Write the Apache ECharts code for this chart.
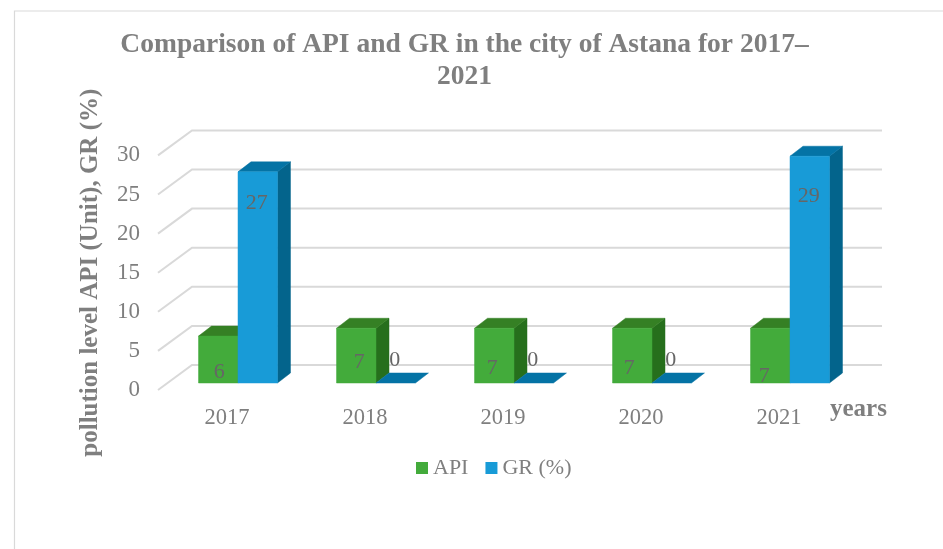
<!DOCTYPE html>
<html>
<head>
<meta charset="utf-8">
<style>html,body{margin:0;padding:0;background:#fff}#c{width:943px;height:549px}</style>
<script src="https://cdn.jsdelivr.net/npm/echarts@6/dist/echarts.min.js"></script>
</head>
<body>
<div id="c"></div>
<script>
const categories = ['2017', '2018', '2019', '2020', '2021'];
const apiValues = [6, 7, 7, 7, 7];
const grValues = [27, 0, 0, 0, 29];
const yTicks = [0, 5, 10, 15, 20, 25, 30];

// Layout of the pseudo-3D drawing (pixels)
const FONT = '"Liberation Serif"';
const wall = { dx: 34, dy: -25 };
const plane = { dx: 11, dy: -7 };
const depth = { dx: 13, dy: -10 };
const barRatio = 0.286;
const labelNudgeApi = [[1, 36], [3, 34], [-2, 40], [-3, 40], [-6, 48]];
const labelNudgeGr = [[-1, 31], [-1, -23], [-1, -23], [-1, -23], [-1, 40]];

function poly(points, fill) {
  return { type: 'polygon', shape: { points }, style: { fill, stroke: fill, lineWidth: 0.5 } };
}
function boxSeries(name, values, slot, colors) {
  return {
    name, type: 'custom', coordinateSystem: 'cartesian2d', clip: false, z: 3 + slot,
    itemStyle: { color: colors.front },
    data: values.map((v, i) => [i, v]),
    encode: { x: 0, y: 1 },
    renderItem(params, api) {
      const w = api.size([1, 0])[0] * barRatio;
      const top = api.coord([api.value(0), api.value(1)]);
      const base = api.coord([api.value(0), 0]);
      const xl = base[0] + plane.dx + (slot - 1) * w, xr = xl + w;
      const yb = base[1] + plane.dy, yt = top[1] + plane.dy;
      const { dx, dy } = depth;
      const children = [];
      if (yb - yt > 0.5) {
        children.push(poly([[xr, yt], [xr + dx, yt + dy], [xr + dx, yb + dy], [xr, yb]], colors.side));
      }
      children.push(poly([[xl, yt], [xl + dx, yt + dy], [xr + dx, yt + dy], [xr, yt]], colors.top));
      if (yb - yt > 0.5) {
        children.push(poly([[xl, yt], [xr, yt], [xr, yb], [xl, yb]], colors.front));
      }
      return { type: 'group', children };
    }
  };
}
function labelSeries(values, slot, nudges) {
  return {
    type: 'custom', coordinateSystem: 'cartesian2d', clip: false, z: 10, silent: true,
    data: values.map((v, i) => [i, v]),
    encode: { x: 0, y: 1 },
    renderItem(params, api) {
      const w = api.size([1, 0])[0] * barRatio;
      const i = api.value(0);
      const top = api.coord([i, api.value(1)]);
      const n = nudges[i];
      return {
        type: 'text',
        style: {
          text: String(api.value(1)),
          x: top[0] + plane.dx + (slot - 0.5) * w + n[0],
          y: top[1] + plane.dy + n[1],
          align: 'center', verticalAlign: 'middle',
          fill: '#666666', font: '22px ' + FONT
        }
      };
    }
  };
}

const chart = echarts.init(document.getElementById('c'), null, { renderer: 'canvas' });
chart.setOption({
  animation: false,
  backgroundColor: '#ffffff',
  title: {
    text: 'Comparison of API and GR in the city of Astana for 2017–\n2021',
    left: 459.5, top: 24, textAlign: 'center',
    textStyle: { fontFamily: FONT, fontSize: 27.5, fontWeight: 'bold', color: '#7f7f7f', lineHeight: 32 }
  },
  legend: {
    data: ['API', 'GR (%)'], left: 411, top: 452, icon: 'rect',
    itemWidth: 12, itemHeight: 12, itemGap: 17,
    textStyle: { fontFamily: FONT, fontSize: 22, color: '#7f7f7f' }
  },
  grid: { left: 158, top: 155.4, width: 690, height: 234.6 },
  xAxis: {
    type: 'category', data: categories,
    axisLine: { show: false }, axisTick: { show: false },
    axisLabel: { margin: 17, color: '#7f7f7f', fontFamily: FONT, fontSize: 22.5 },
    name: 'years', nameLocation: 'end', nameGap: -18,
    nameTextStyle: { fontFamily: FONT, fontSize: 25, fontWeight: 'bold', color: '#7f7f7f',
      align: 'left', verticalAlign: 'top', padding: [7, 0, 0, 0] }
  },
  yAxis: {
    type: 'value', min: 0, max: 30, interval: 5,
    axisLine: { show: false }, axisTick: { show: false }, splitLine: { show: false },
    axisLabel: { margin: 18, color: '#7f7f7f', fontFamily: FONT, fontSize: 23, padding: [2, 0, 0, 0] },
    name: 'pollution level API (Unit), GR (%)', nameLocation: 'middle', nameRotate: 90, nameGap: 55,
    nameTextStyle: { fontFamily: FONT, fontSize: 25, fontWeight: 'bold', color: '#7f7f7f' }
  },
  graphic: [{
    type: 'polyline', silent: true, z: 0,
    shape: { points: [[14.5, 549], [14.5, 11], [943, 11]] },
    style: { stroke: '#d9d9d9', lineWidth: 1.2, fill: null }
  }],
  series: [
    {
      type: 'custom', coordinateSystem: 'cartesian2d', clip: false, z: 1, silent: true,
      data: yTicks.map(v => [0, v]),
      encode: { x: 0, y: 1 },
      renderItem(params, api) {
        const y = api.coord([0, api.value(1)])[1];
        const x0 = params.coordSys.x, x1 = x0 + params.coordSys.width;
        return {
          type: 'polyline',
          shape: { points: [[x0, y], [x0 + wall.dx, y + wall.dy], [x1 + wall.dx, y + wall.dy]] },
          style: { stroke: '#d9d9d9', lineWidth: 2, fill: null }
        };
      }
    },
    boxSeries('API', apiValues, 0, { front: '#43ab3b', side: '#266f1c', top: '#358024' }),
    boxSeries('GR (%)', grValues, 1, { front: '#189bd7', side: '#03648c', top: '#0473a5' }),
    labelSeries(apiValues, 0, labelNudgeApi),
    labelSeries(grValues, 1, labelNudgeGr)
  ]
});
</script>
</body>
</html>
